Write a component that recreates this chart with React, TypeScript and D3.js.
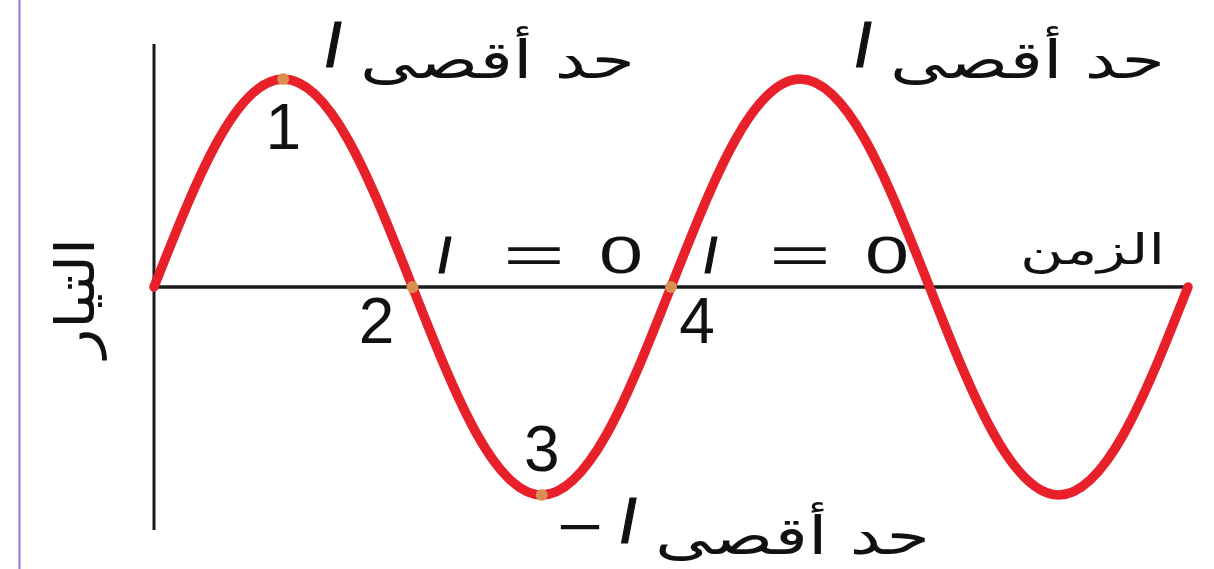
import React from "react";
import * as d3 from "d3";

// Current sampled every eighth of a period (in units of the peak value)
const phaseSteps = [0, 0.5, 1, 1.5, 2, 2.5, 3, 3.5, 4, 4.5, 5, 5.5, 6, 6.5, 7, 7.5, 8];
const currentValues = [0, 0.71, 1, 0.71, 0, -0.71, -1, -0.71, 0, 0.71, 1, 0.71, 0, -0.71, -1, -0.71, 0];

// Marked instants along the wave
const markedSteps = [1, 2, 3, 4];
const markedLabels = ["1", "2", "3", "4"];

const maxLabel = "حد أقصى";
const timeLabel = "الزمن";
const currentLabel = "التيار";

const W = 1214;
const H = 569;

export default function App() {
  const x = d3.scaleLinear().domain([0, 8]).range([154, 1188]);
  const y = d3.scaleLinear().domain([-1, 1]).range([495, 79]);

  const pts = phaseSteps.map((p, i) => [p, currentValues[i]] as [number, number]);
  const line = d3
    .line<[number, number]>()
    .x((d) => x(d[0]))
    .y((d) => y(d[1]))
    .curve(d3.curveNatural);

  const valueAt = (s: number) => currentValues[phaseSteps.indexOf(s)];

  const arabicFont = "'DejaVu Sans', sans-serif";
  const latinFont = "'Liberation Sans', Arial, sans-serif";

  // label positions for the numbered points
  const numPos: Record<string, [number, number]> = {
    "1": [x(1), y(1) + 70],
    "2": [x(2) - 36, y(0) + 56],
    "3": [x(3), y(-1) - 24],
    "4": [x(4) + 26, y(0) + 56],
  };

  // maximum-value labels: [I x, Arabic right edge, baseline, sign]
  const maxLabels: [number, number, number, string][] = [
    [324, 635, 67, ""],
    [854, 1165, 67, ""],
    [619, 930, 543, "−"],
  ];

  return (
    <svg
      width={W}
      height={H}
      viewBox={`0 0 ${W} ${H}`}
      style={{ position: "absolute", left: 0, top: 0, background: "#fff" }}
    >
      <line x1={19.5} x2={19.5} y1={0} y2={H} stroke="#7b7be8" strokeWidth={2} />

      {/* axes */}
      <line x1={x(0)} x2={x(0)} y1={44} y2={530} stroke="#1a1a1a" strokeWidth={3} />
      <line x1={x(0)} x2={1186} y1={y(0)} y2={y(0)} stroke="#1a1a1a" strokeWidth={3.5} />

      {/* wave */}
      <path d={line(pts) ?? ""} fill="none" stroke="#e8202a" strokeWidth={9.5} strokeLinecap="round" />

      {markedSteps.map((s) => (
        <circle key={s} cx={x(s)} cy={y(valueAt(s))} r={6} fill="#d99a55" opacity={0.9} />
      ))}

      {markedLabels.map((t) => (
        <text
          key={t}
          x={numPos[t][0]}
          y={numPos[t][1]}
          textAnchor="middle"
          fontFamily={latinFont}
          fontSize={64}
          fill="#111"
        >
          {t}
        </text>
      ))}

      {/* I = 0 labels */}
      {[437, 703].map((lx) => (
        <g key={lx} fontFamily={latinFont} fontSize={52} fill="#111">
          <text x={lx} y={273} fontStyle="italic" stroke="#111" strokeWidth={1.2}>I</text>
          <text x={lx + 66} y={273} textLength={62} lengthAdjust="spacingAndGlyphs">=</text>
          <text x={lx + 162} y={273} textLength={44} lengthAdjust="spacingAndGlyphs">0</text>
        </g>
      ))}

      {/* maximum labels */}
      {maxLabels.map(([ix, ax, by, sign]) => (
        <g key={ix}>
          {sign && (
            <text x={ix - 62} y={by + 4} fontFamily={latinFont} fontSize={60} fill="#111"
              textLength={46} lengthAdjust="spacingAndGlyphs">
              {sign}
            </text>
          )}
          <text x={ix} y={by} fontFamily={latinFont} fontStyle="italic" fontSize={64} fill="#111"
            stroke="#111" strokeWidth={1.2}>
            I
          </text>
          <text
            x={ax - 275}
            y={by + 11}
            fontFamily={arabicFont}
            fontSize={52}
            fill="#111"
            textLength={275}
            lengthAdjust="spacingAndGlyphs"
          >
            {maxLabel}
          </text>
        </g>
      ))}

      <text
        x={1020}
        y={264}
        fontFamily={arabicFont}
        fontSize={42}
        fill="#111"
        textLength={145}
        lengthAdjust="spacingAndGlyphs"
      >
        {timeLabel}
      </text>

      <text
        transform={`translate(94,298) rotate(-90)`}
        x={-60}
        fontFamily={arabicFont}
        fontSize={54}
        fill="#111"
        textLength={120}
        lengthAdjust="spacingAndGlyphs"
      >
        {currentLabel}
      </text>
    </svg>
  );
}
